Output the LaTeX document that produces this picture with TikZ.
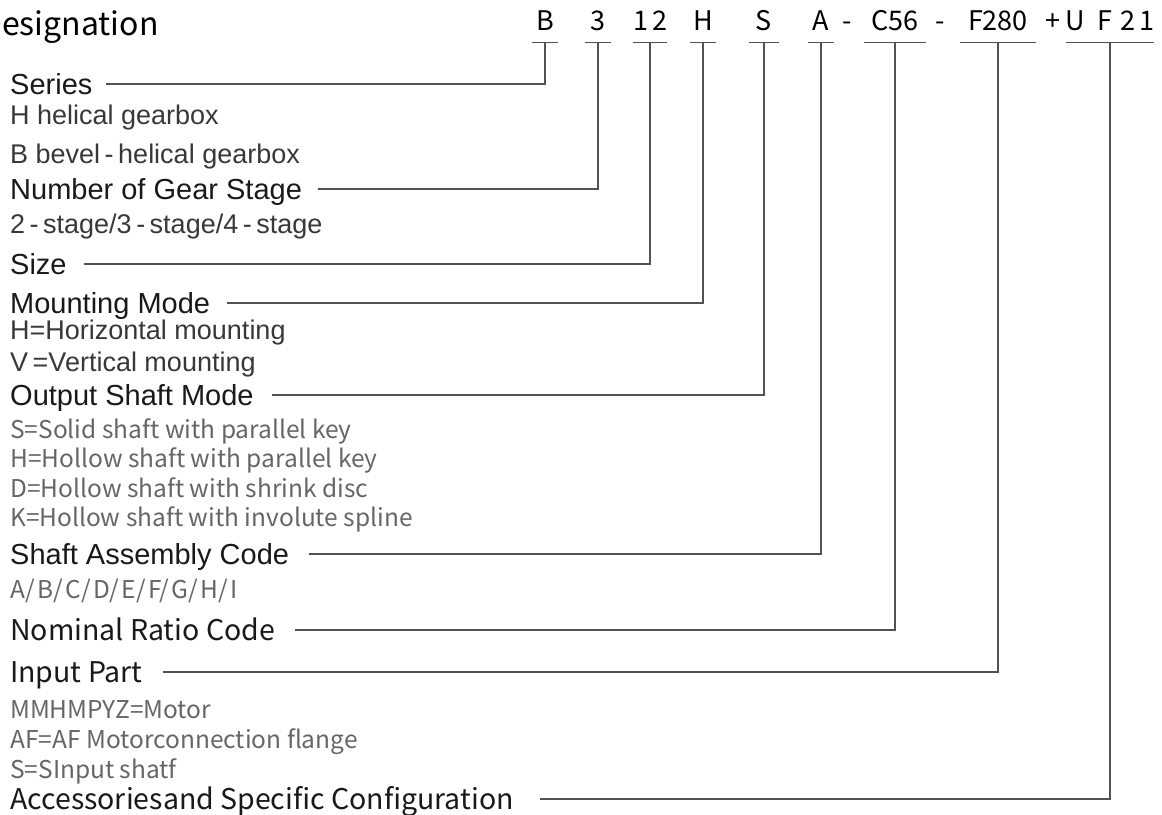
\documentclass[tikz,border=0pt]{standalone}
\usepackage{fontspec}
\setmainfont{Liberation Sans}
\newfontfamily\cjkfont{Noto Sans CJK SC}

\begin{document}
\begin{tikzpicture}[x=1pt, y=-1pt,
	head/.style={anchor=west, inner sep=0pt, text height=20.8pt, text depth=0pt,
		font=\fontsize{29}{29}\selectfont, text=black!90},
	item/.style={head, text height=19.3pt, font=\fontsize{27}{27}\selectfont, text=black!78},
	headb/.style={head, text height=20.9pt, font=\cjkfont\fontsize{28.5}{28.5}\selectfont},
	itemb/.style={head, text height=18pt, font=\cjkfont\fontsize{24.5}{24.5}\selectfont, text=black!60},
	code/.style={anchor=base, inner sep=0pt, text depth=12pt, font=\cjkfont\fontsize{27}{27}\selectfont},
	lead/.style={draw=black!68, line width=1.3pt}]

	\useasboundingbox (0,0) rectangle (1162,814);

	% type code
	\node[anchor=base west, inner sep=0pt, font=\cjkfont\fontsize{32}{32}\selectfont] (title) at (-20,35) {Designation};
	\node[code, minimum width=25] (cB) at (545,30) {B};
	\node[code, minimum width=25] (c3) at (598,30) {3};
	\node[code, minimum width=25] (c12) at (650,30) {1\kern4pt 2};
	\node[code, minimum width=25] (cH) at (703,30) {H};
	\node[code, minimum width=30] (cS) at (764,30) {S};
	\node[code, minimum width=26] (cA) at (821,30) {A};
	\node[code, text depth=0pt] (dash1) at (847,30) {-};
	\node[code, minimum width=61] (cC) at (895,30) {C56};
	\node[code, text depth=0pt] (dash2) at (940,30) {-};
	\node[code, minimum width=76] (cF) at (998,30) {F280};
	\node[code, text depth=0pt] (plus) at (1053,30) {+};
	\node[code, minimum width=78] (cU) at (1110,30) {U\kern12pt F\kern8pt 2\kern4pt 1};

	\foreach \c in {cB,c3,c12,cH,cS,cA,cC,cF,cU}
		\draw[lead] (\c.south west) -- (\c.south east);

	% explanation
	\node[head] (series) at (10,84) {Series};
	\node[item] (helical) at (10,115) {H helical gearbox};
	\node[item] (bevel) at (10,154) {B bevel\,-\,helical gearbox};
	\node[head] (stage) at (10,189) {Number of Gear Stage};
	\node[item] (stages) at (10,224) {2\,-\,stage/3\,-\,stage/4\,-\,stage};
	\node[head] (size) at (10,264) {Size};
	\node[head] (mount) at (10,303) {Mounting Mode};
	\node[item] (horiz) at (10,330) {H=Horizontal mounting};
	\node[item] (vert) at (10,362) {V\,=Vertical mounting};
	\node[head] (output) at (10,395) {Output Shaft Mode};
	\node[itemb] (solid) at (10,429) {S=Solid shaft with parallel key};
	\node[itemb] (hollow) at (10,458) {H=Hollow shaft with parallel key};
	\node[itemb] (shrink) at (10,488) {D=Hollow shaft with shrink disc};
	\node[itemb] (spline) at (10,517) {K=Hollow shaft with involute spline};
	\node[head] (assembly) at (10,554) {Shaft Assembly Code};
	\node[itemb] (letters) at (10,589) {A/\kern2.5pt B/\kern2.5pt C/\kern2.5pt D/\kern2.5pt E/\kern2.5pt F/\kern2.5pt G/\kern2.5pt H/\kern2.5pt I};
	\node[headb] (ratio) at (10,630) {Nominal Ratio Code};
	\node[headb] (input) at (10,672) {Input Part};
	\node[itemb] (motor) at (10,709) {MMHMPYZ=Motor};
	\node[itemb] (flange) at (10,739) {AF=AF Motorconnection flange};
	\node[itemb] (shaft) at (10,769) {S=SInput shatf};
	\node[headb] (access) at (10,799) {Accessoriesand Specific Configuration};

	\draw[lead] ([xshift=13pt]series.east) -| (cB.south);
	\draw[lead] ([xshift=16pt]stage.east) -| (c3.south);
	\draw[lead] ([xshift=17pt]size.east) -| (c12.south);
	\draw[lead] ([xshift=17pt]mount.east) -| (cH.south);
	\draw[lead] ([xshift=18pt]output.east) -| (cS.south);
	\draw[lead] ([xshift=20pt]assembly.east) -| (cA.south);
	\draw[lead] ([xshift=20pt]ratio.east) -| (cC.south);
	\draw[lead] ([xshift=20pt]input.east) -| (cF.south);
	\draw[lead] ([xshift=26pt]access.east) -| (cU.south);

\end{tikzpicture}
\end{document}
